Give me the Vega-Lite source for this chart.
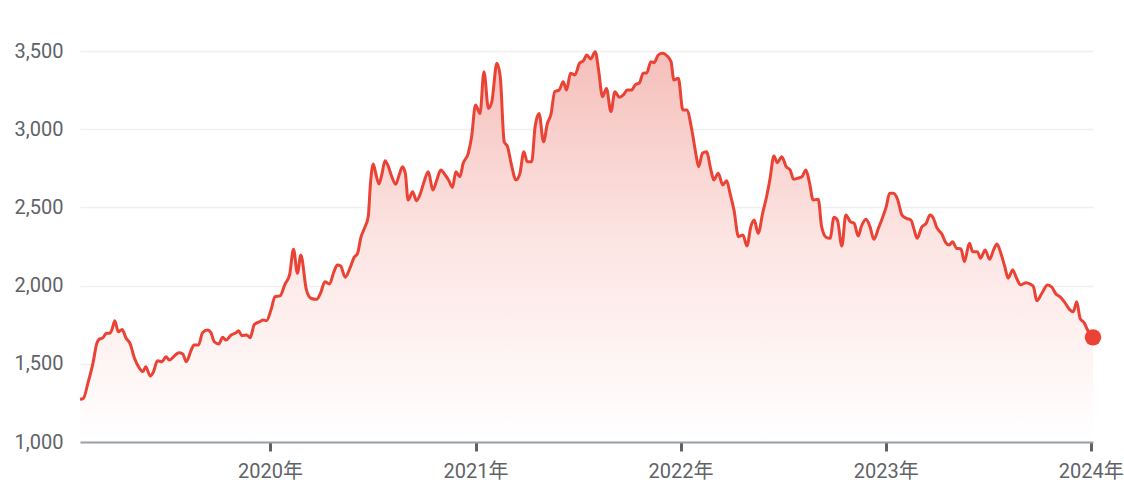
{
  "$schema": "https://vega.github.io/schema/vega-lite/v6.json",
  "autosize": {"type": "none"},
  "padding": {"left": 80, "top": 51, "right": 31, "bottom": 58},
  "width": 1013,
  "height": 391,
  "background": "#ffffff",
  "config": {
    "view": {"stroke": null},
    "font": "Roboto, Noto Sans CJK JP, sans-serif"
  },
  "data": {
    "values": [
      {"date": "2019-01-28", "price": 1273},
      {"date": "2019-02-03", "price": 1279},
      {"date": "2019-02-11", "price": 1375},
      {"date": "2019-02-20", "price": 1503},
      {"date": "2019-02-27", "price": 1631},
      {"date": "2019-03-03", "price": 1657},
      {"date": "2019-03-10", "price": 1667},
      {"date": "2019-03-16", "price": 1695},
      {"date": "2019-03-22", "price": 1695},
      {"date": "2019-03-26", "price": 1720},
      {"date": "2019-03-31", "price": 1776},
      {"date": "2019-04-06", "price": 1705},
      {"date": "2019-04-13", "price": 1720},
      {"date": "2019-04-20", "price": 1663},
      {"date": "2019-04-27", "price": 1631},
      {"date": "2019-05-05", "price": 1535},
      {"date": "2019-05-14", "price": 1471},
      {"date": "2019-05-20", "price": 1450},
      {"date": "2019-05-25", "price": 1481},
      {"date": "2019-06-02", "price": 1422},
      {"date": "2019-06-07", "price": 1443},
      {"date": "2019-06-15", "price": 1520},
      {"date": "2019-06-23", "price": 1513},
      {"date": "2019-06-30", "price": 1545},
      {"date": "2019-07-06", "price": 1524},
      {"date": "2019-07-15", "price": 1550},
      {"date": "2019-07-23", "price": 1571},
      {"date": "2019-07-30", "price": 1563},
      {"date": "2019-08-05", "price": 1513},
      {"date": "2019-08-14", "price": 1588},
      {"date": "2019-08-19", "price": 1620},
      {"date": "2019-08-27", "price": 1620},
      {"date": "2019-09-03", "price": 1699},
      {"date": "2019-09-12", "price": 1716},
      {"date": "2019-09-18", "price": 1699},
      {"date": "2019-09-24", "price": 1641},
      {"date": "2019-10-02", "price": 1627},
      {"date": "2019-10-09", "price": 1669},
      {"date": "2019-10-15", "price": 1652},
      {"date": "2019-10-24", "price": 1684},
      {"date": "2019-11-02", "price": 1699},
      {"date": "2019-11-06", "price": 1712},
      {"date": "2019-11-12", "price": 1680},
      {"date": "2019-11-21", "price": 1684},
      {"date": "2019-11-27", "price": 1667},
      {"date": "2019-12-04", "price": 1750},
      {"date": "2019-12-13", "price": 1768},
      {"date": "2019-12-20", "price": 1780},
      {"date": "2019-12-26", "price": 1776},
      {"date": "2020-01-03", "price": 1845},
      {"date": "2020-01-10", "price": 1929},
      {"date": "2020-01-19", "price": 1934},
      {"date": "2020-01-28", "price": 2010},
      {"date": "2020-02-05", "price": 2068},
      {"date": "2020-02-12", "price": 2232},
      {"date": "2020-02-19", "price": 2079},
      {"date": "2020-02-25", "price": 2196},
      {"date": "2020-03-06", "price": 1972},
      {"date": "2020-03-14", "price": 1919},
      {"date": "2020-03-24", "price": 1912},
      {"date": "2020-03-31", "price": 1951},
      {"date": "2020-04-08", "price": 2025},
      {"date": "2020-04-16", "price": 2010},
      {"date": "2020-04-24", "price": 2089},
      {"date": "2020-04-30", "price": 2132},
      {"date": "2020-05-06", "price": 2125},
      {"date": "2020-05-14", "price": 2053},
      {"date": "2020-05-23", "price": 2117},
      {"date": "2020-05-30", "price": 2181},
      {"date": "2020-06-05", "price": 2206},
      {"date": "2020-06-11", "price": 2309},
      {"date": "2020-06-18", "price": 2373},
      {"date": "2020-06-24", "price": 2441},
      {"date": "2020-06-28", "price": 2654},
      {"date": "2020-07-03", "price": 2778},
      {"date": "2020-07-08", "price": 2707},
      {"date": "2020-07-13", "price": 2650},
      {"date": "2020-07-18", "price": 2707},
      {"date": "2020-07-24", "price": 2799},
      {"date": "2020-07-30", "price": 2760},
      {"date": "2020-08-05", "price": 2696},
      {"date": "2020-08-12", "price": 2648},
      {"date": "2020-08-18", "price": 2707},
      {"date": "2020-08-24", "price": 2760},
      {"date": "2020-08-29", "price": 2718},
      {"date": "2020-09-03", "price": 2547},
      {"date": "2020-09-11", "price": 2600},
      {"date": "2020-09-18", "price": 2543},
      {"date": "2020-09-25", "price": 2590},
      {"date": "2020-10-01", "price": 2660},
      {"date": "2020-10-09", "price": 2728},
      {"date": "2020-10-17", "price": 2611},
      {"date": "2020-10-24", "price": 2675},
      {"date": "2020-10-31", "price": 2739},
      {"date": "2020-11-08", "price": 2707},
      {"date": "2020-11-14", "price": 2675},
      {"date": "2020-11-21", "price": 2628},
      {"date": "2020-11-27", "price": 2728},
      {"date": "2020-12-04", "price": 2696},
      {"date": "2020-12-10", "price": 2782},
      {"date": "2020-12-19", "price": 2846},
      {"date": "2020-12-25", "price": 2952},
      {"date": "2021-01-01", "price": 3155},
      {"date": "2021-01-09", "price": 3101},
      {"date": "2021-01-16", "price": 3368},
      {"date": "2021-01-24", "price": 3133},
      {"date": "2021-01-30", "price": 3176},
      {"date": "2021-02-08", "price": 3421},
      {"date": "2021-02-14", "price": 3336},
      {"date": "2021-02-21", "price": 2920},
      {"date": "2021-02-27", "price": 2888},
      {"date": "2021-03-06", "price": 2771},
      {"date": "2021-03-14", "price": 2675},
      {"date": "2021-03-21", "price": 2718},
      {"date": "2021-03-28", "price": 2856},
      {"date": "2021-04-03", "price": 2792},
      {"date": "2021-04-11", "price": 2792},
      {"date": "2021-04-17", "price": 3016},
      {"date": "2021-04-24", "price": 3101},
      {"date": "2021-05-02", "price": 2920},
      {"date": "2021-05-09", "price": 3038},
      {"date": "2021-05-15", "price": 3091},
      {"date": "2021-05-22", "price": 3240},
      {"date": "2021-05-30", "price": 3251},
      {"date": "2021-06-06", "price": 3304},
      {"date": "2021-06-12", "price": 3251},
      {"date": "2021-06-19", "price": 3357},
      {"date": "2021-06-27", "price": 3347},
      {"date": "2021-07-05", "price": 3421},
      {"date": "2021-07-12", "price": 3438},
      {"date": "2021-07-18", "price": 3474},
      {"date": "2021-07-25", "price": 3449},
      {"date": "2021-08-02", "price": 3496},
      {"date": "2021-08-08", "price": 3379},
      {"date": "2021-08-15", "price": 3208},
      {"date": "2021-08-22", "price": 3261},
      {"date": "2021-08-30", "price": 3112},
      {"date": "2021-09-06", "price": 3240},
      {"date": "2021-09-14", "price": 3204},
      {"date": "2021-09-21", "price": 3219},
      {"date": "2021-09-28", "price": 3251},
      {"date": "2021-10-06", "price": 3251},
      {"date": "2021-10-12", "price": 3283},
      {"date": "2021-10-20", "price": 3298},
      {"date": "2021-10-26", "price": 3357},
      {"date": "2021-11-02", "price": 3361},
      {"date": "2021-11-09", "price": 3432},
      {"date": "2021-11-15", "price": 3425},
      {"date": "2021-11-22", "price": 3474},
      {"date": "2021-11-30", "price": 3485},
      {"date": "2021-12-08", "price": 3468},
      {"date": "2021-12-15", "price": 3432},
      {"date": "2021-12-20", "price": 3315},
      {"date": "2021-12-28", "price": 3325},
      {"date": "2022-01-05", "price": 3123},
      {"date": "2022-01-12", "price": 3123},
      {"date": "2022-01-21", "price": 2995},
      {"date": "2022-01-28", "price": 2846},
      {"date": "2022-02-02", "price": 2760},
      {"date": "2022-02-09", "price": 2846},
      {"date": "2022-02-16", "price": 2856},
      {"date": "2022-02-24", "price": 2739},
      {"date": "2022-03-01", "price": 2675},
      {"date": "2022-03-09", "price": 2718},
      {"date": "2022-03-17", "price": 2643},
      {"date": "2022-03-24", "price": 2671},
      {"date": "2022-03-30", "price": 2590},
      {"date": "2022-04-06", "price": 2483},
      {"date": "2022-04-14", "price": 2313},
      {"date": "2022-04-22", "price": 2324},
      {"date": "2022-04-29", "price": 2253},
      {"date": "2022-05-06", "price": 2377},
      {"date": "2022-05-12", "price": 2419},
      {"date": "2022-05-19", "price": 2334},
      {"date": "2022-05-27", "price": 2462},
      {"date": "2022-06-03", "price": 2568},
      {"date": "2022-06-09", "price": 2680},
      {"date": "2022-06-16", "price": 2829},
      {"date": "2022-06-22", "price": 2786},
      {"date": "2022-06-30", "price": 2824},
      {"date": "2022-07-08", "price": 2760},
      {"date": "2022-07-15", "price": 2739},
      {"date": "2022-07-21", "price": 2680},
      {"date": "2022-07-28", "price": 2686},
      {"date": "2022-08-05", "price": 2696},
      {"date": "2022-08-12", "price": 2739},
      {"date": "2022-08-18", "price": 2664},
      {"date": "2022-08-25", "price": 2547},
      {"date": "2022-09-03", "price": 2552},
      {"date": "2022-09-09", "price": 2377},
      {"date": "2022-09-17", "price": 2309},
      {"date": "2022-09-24", "price": 2302},
      {"date": "2022-10-01", "price": 2437},
      {"date": "2022-10-07", "price": 2419},
      {"date": "2022-10-15", "price": 2253},
      {"date": "2022-10-22", "price": 2451},
      {"date": "2022-10-30", "price": 2409},
      {"date": "2022-11-06", "price": 2398},
      {"date": "2022-11-13", "price": 2317},
      {"date": "2022-11-19", "price": 2381},
      {"date": "2022-11-27", "price": 2424},
      {"date": "2022-12-04", "price": 2377},
      {"date": "2022-12-11", "price": 2296},
      {"date": "2022-12-19", "price": 2366},
      {"date": "2022-12-27", "price": 2441},
      {"date": "2023-01-02", "price": 2505},
      {"date": "2023-01-08", "price": 2590},
      {"date": "2023-01-15", "price": 2590},
      {"date": "2023-01-22", "price": 2552},
      {"date": "2023-01-30", "price": 2451},
      {"date": "2023-02-07", "price": 2430},
      {"date": "2023-02-15", "price": 2419},
      {"date": "2023-02-20", "price": 2366},
      {"date": "2023-02-26", "price": 2302},
      {"date": "2023-03-06", "price": 2373},
      {"date": "2023-03-14", "price": 2398},
      {"date": "2023-03-21", "price": 2451},
      {"date": "2023-03-27", "price": 2430},
      {"date": "2023-04-02", "price": 2370},
      {"date": "2023-04-11", "price": 2330},
      {"date": "2023-04-18", "price": 2274},
      {"date": "2023-04-24", "price": 2260},
      {"date": "2023-04-30", "price": 2281},
      {"date": "2023-05-07", "price": 2239},
      {"date": "2023-05-15", "price": 2234},
      {"date": "2023-05-21", "price": 2153},
      {"date": "2023-05-30", "price": 2270},
      {"date": "2023-06-05", "price": 2217},
      {"date": "2023-06-13", "price": 2217},
      {"date": "2023-06-19", "price": 2175},
      {"date": "2023-06-27", "price": 2228},
      {"date": "2023-07-05", "price": 2168},
      {"date": "2023-07-12", "price": 2228},
      {"date": "2023-07-18", "price": 2266},
      {"date": "2023-07-25", "price": 2207},
      {"date": "2023-08-01", "price": 2121},
      {"date": "2023-08-07", "price": 2047},
      {"date": "2023-08-15", "price": 2100},
      {"date": "2023-08-22", "price": 2047},
      {"date": "2023-08-29", "price": 2004},
      {"date": "2023-09-08", "price": 2019},
      {"date": "2023-09-15", "price": 2010},
      {"date": "2023-09-21", "price": 1993},
      {"date": "2023-09-27", "price": 1903},
      {"date": "2023-10-06", "price": 1951},
      {"date": "2023-10-16", "price": 2004},
      {"date": "2023-10-24", "price": 1989},
      {"date": "2023-10-31", "price": 1946},
      {"date": "2023-11-07", "price": 1929},
      {"date": "2023-11-16", "price": 1891},
      {"date": "2023-11-24", "price": 1848},
      {"date": "2023-12-01", "price": 1833},
      {"date": "2023-12-07", "price": 1897},
      {"date": "2023-12-13", "price": 1791},
      {"date": "2023-12-20", "price": 1763},
      {"date": "2023-12-28", "price": 1705},
      {"date": "2024-01-05", "price": 1669}
    ]
  },
  "encoding": {
    "x": {
      "field": "date",
      "type": "temporal",
      "scale": {"nice": false, "padding": 0},
      "axis": {
        "title": null,
        "values": [
          {"year": 2020, "month": 1, "date": 1},
          {"year": 2021, "month": 1, "date": 1},
          {"year": 2022, "month": 1, "date": 1},
          {"year": 2023, "month": 1, "date": 1},
          {"year": 2024, "month": 1, "date": 1}
        ],
        "format": "%Y年",
        "grid": false,
        "domain": true,
        "domainColor": "#9aa0a6",
        "domainWidth": 2,
        "ticks": true,
        "tickColor": "#5f6368",
        "tickWidth": 3,
        "tickSize": 9,
        "labelFontSize": 20,
        "labelColor": "#5f6368",
        "labelPadding": 10,
        "labelFont": "Roboto, Noto Sans CJK JP, sans-serif",
        "zindex": 1
      }
    },
    "y": {
      "field": "price",
      "type": "quantitative",
      "scale": {"domain": [1000, 3500], "zero": false, "nice": false},
      "axis": {
        "title": null,
        "values": [1000, 1500, 2000, 2500, 3000, 3500],
        "format": ",d",
        "domain": false,
        "ticks": false,
        "grid": true,
        "gridColor": "#f0f0f0",
        "gridWidth": 1.5,
        "labelFontSize": 20,
        "labelColor": "#5f6368",
        "labelPadding": 17,
        "labelFont": "Roboto, sans-serif"
      }
    }
  },
  "layer": [
    {
      "mark": {
        "type": "area",
        "interpolate": "monotone",
        "fill": {
          "gradient": "linear",
          "x1": 0, "y1": 0, "x2": 0, "y2": 1,
          "stops": [
            {"offset": 0, "color": "#f5bfbb"},
            {"offset": 0.5, "color": "#fce6e4"},
            {"offset": 1, "color": "#ffffff"}
          ]
        }
      },
      "encoding": {"y2": {"datum": 1000}}
    },
    {
      "mark": {"type": "line", "interpolate": "monotone", "color": "#ea4335", "strokeWidth": 3}
    },
    {
      "transform": [
        {"window": [{"op": "rank", "as": "r"}], "sort": [{"field": "date", "order": "descending"}]},
        {"filter": "datum.r == 1"}
      ],
      "mark": {"type": "point", "filled": true, "shape": "circle", "size": 270, "color": "#ea4335", "opacity": 1}
    }
  ]
}
